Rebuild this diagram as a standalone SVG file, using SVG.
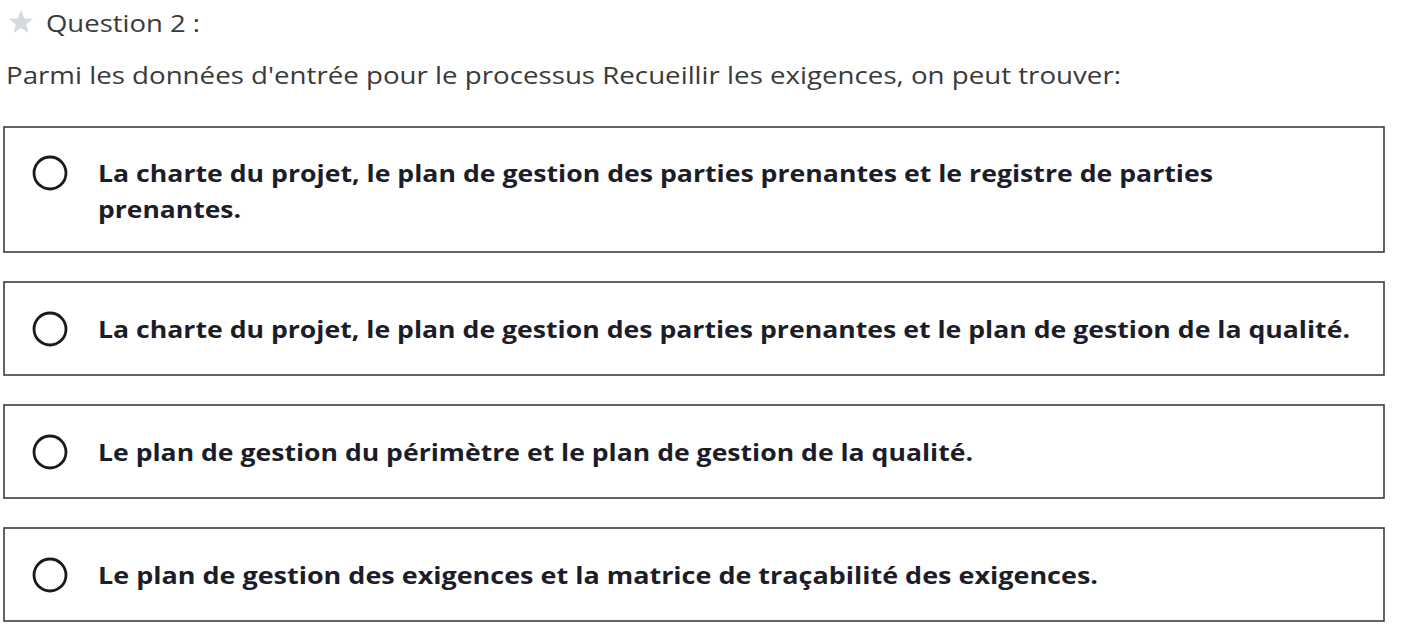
<svg xmlns="http://www.w3.org/2000/svg" width="1402" height="640" viewBox="0 0 1402 640">
<style>
.box{fill:#fff;stroke:#3c3c3c;stroke-width:1.6}
.radio{fill:none;stroke:#1a1a1a;stroke-width:2.8}
.opt{font-family:"Open Sans","Noto Sans",sans-serif;font-weight:bold;font-size:24px;fill:#1c1d28}
.hdr{font-family:"Open Sans","Noto Sans",sans-serif;font-size:24px;fill:#3a3a3a}
</style>
<rect width="1402" height="640" fill="#fff"/>
<g id="header">
<polygon points="21,10 24.3,18.5 33,18.8 26.2,24.3 28.6,33 21,28 13.4,33 15.8,24.3 9,18.8 17.7,18.5" fill="#d6d9df"/>
<text class="hdr" x="46" y="32" textLength="154" lengthAdjust="spacingAndGlyphs">Question 2 :</text>
<text class="hdr" x="6" y="84" textLength="1115" lengthAdjust="spacingAndGlyphs">Parmi les données d'entrée pour le processus Recueillir les exigences, on peut trouver:</text>
</g>
<g id="opt1">
<rect class="box" x="4" y="127" width="1380" height="125"/>
<circle class="radio" cx="50" cy="173" r="16"/>
<text class="opt" x="98" y="182" textLength="1115" lengthAdjust="spacingAndGlyphs">La charte du projet, le plan de gestion des parties prenantes et le registre de parties</text>
<text class="opt" x="98" y="218" textLength="143" lengthAdjust="spacingAndGlyphs">prenantes.</text>
</g>
<g id="opt2">
<rect class="box" x="4" y="282" width="1380" height="93"/>
<circle class="radio" cx="50" cy="329" r="16"/>
<text class="opt" x="98" y="338" textLength="1252" lengthAdjust="spacingAndGlyphs">La charte du projet, le plan de gestion des parties prenantes et le plan de gestion de la qualité.</text>
</g>
<g id="opt3">
<rect class="box" x="4" y="405" width="1380" height="93"/>
<circle class="radio" cx="50" cy="452" r="16"/>
<text class="opt" x="98" y="461" textLength="875" lengthAdjust="spacingAndGlyphs">Le plan de gestion du périmètre et le plan de gestion de la qualité.</text>
</g>
<g id="opt4">
<rect class="box" x="4" y="528" width="1380" height="93"/>
<circle class="radio" cx="50" cy="575" r="16"/>
<text class="opt" x="98" y="584" textLength="1000" lengthAdjust="spacingAndGlyphs">Le plan de gestion des exigences et la matrice de traçabilité des exigences.</text>
</g>
</svg>
